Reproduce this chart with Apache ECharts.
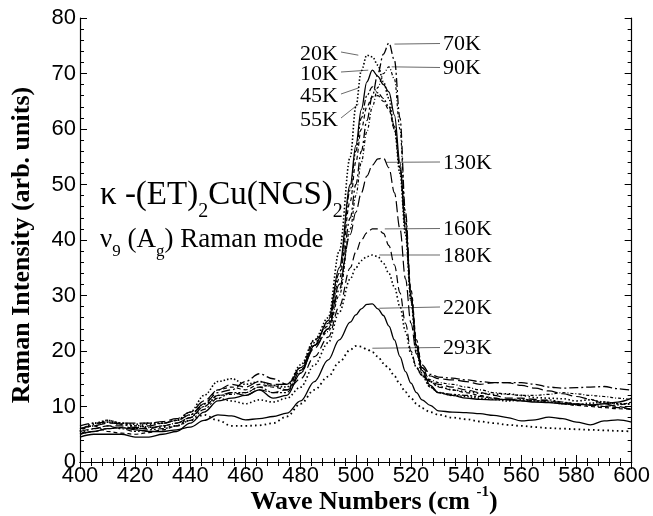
<!DOCTYPE html>
<html><head><meta charset="utf-8">
<script src="https://cdn.jsdelivr.net/npm/echarts@6/dist/echarts.min.js"></script>
<style>html,body{margin:0;padding:0;background:#fff}#c{width:653px;height:516px}</style>
</head><body><div id="c"></div>
<script>
const X = [400,405,410,415,420,425,430,435,440,445,450,455,460,465,470,475,480,485,490,494,498,500,502,504,506,508,510,512,514,516,518,520,522,524,527,530,535,540,545,550,555,560,565,570,575,580,585,590,595,600];

const K10 = [4.5,5,5,5,4.5,4.5,5,5.5,7,9,11,11.5,12,13,11.5,12,16,21,25.5,35,50,57,63.5,68.5,70.6,69.5,68,66.7,62.5,54,42,30,21,16.5,13.8,12.5,12,11.5,11.3,11.2,11.3,11,10.8,10.7,10.5,10.4,10.3,10.5,10.8,11.5];
const K20 = [5.5,7,7.5,7,6.8,7,7,7.5,9,12,14.5,15,14,14.5,13.8,13.5,17.5,22,26,38,55,64,70.5,73.3,73,71.5,68.5,65.5,60,52,41,29,20,15.5,13.5,12.5,12,11.8,11.5,11.3,11,11.2,11,10.8,10.5,10.3,10.6,10.8,10.5,10.5];
const K45 = [5,6,6.5,6,5.5,5.8,6,6.5,7.5,9.5,11.5,12.5,12.5,13.5,12.5,12.5,16.5,21.5,25,34,49,56,62,66,67.6,66.5,65.5,64,60.5,53,42,30,21,16,13.5,12.5,12.2,12,11.8,11.5,11.2,11.4,11,11.2,10.8,10.5,10.2,10,10.3,10.8];
const K55 = [6,6.5,5.5,5.2,5,5.3,5.8,6.5,8,10.5,13,13.5,13,14,13.5,13,17,22,24.5,33,47,54,60,64,65.8,66,65,63.5,60,53,43,31,22,17,14.5,13.5,13,12.5,12,11.5,11.2,11,11,10.8,10.5,10.2,10,9.8,9.6,9.5];
const K70 = [6.5,7,7.2,6.8,6.2,6.5,7,7.5,8.5,10.5,12.5,13,14.5,15.9,15,14,17,21,24,31,44,50,56,61.5,66,70,73.5,75.5,72.4,62,45,30,21,17.5,15.8,15.3,15.1,14.8,14.5,14.3,14.3,14.3,14,13.5,13.3,13.4,13.5,13.6,13.2,12.9];
const K90 = [5,5.5,6,6.2,6,6.2,6.5,7,8,10,12,12.2,12.5,13.5,13.8,13,16,21,23.5,30,42,48,54,59.5,64,67.5,70,71.2,69,60,44,29,20.5,16.5,14.8,14.3,14,13.5,13,12.5,12.2,12,12,12.2,12.5,12.3,12,11.8,11.5,11.2];
const K130 = [6,6.5,7,7,7,7,7.3,7.8,9,11,13,14,13.5,14.5,14,14,16.5,20.5,24,32,41,45,48.5,51.5,53.5,54.6,54.8,53,48.5,42,33,25,19.5,17,15.5,15,14.8,14.5,14,14.3,14.3,13.8,13.3,12.8,12.3,11.8,11.3,10.5,10,9.4];
const K160 = [5.5,6,6.5,6.5,6,6,6.5,7,8,10,12,12.5,12,13,12.5,13,15,19,22.5,28,35,37.8,40,41.3,42,42,41.2,39,35.5,30.5,25,20,17,15.5,14.5,14,13.5,13,12.5,12,11.5,11.5,11.3,11,10.7,10.5,10.3,10,9.8,9.5];
const K180 = [6,6.5,7.5,7,6.5,6.8,7,7.5,8.5,10.5,11.5,11,10.5,11.2,10.8,11.5,13.5,17.5,21.5,27,33,35,36.3,37,37.3,37,35.8,34,31.5,28,23.5,19.5,17,15.6,14.5,13.6,13,12.7,12.4,12.2,12.3,12,11.6,11.5,11.4,11,11.2,10.8,10.5,10.4];
const K220 = [5,5.5,6,6.2,5.8,5.5,5.5,5.8,6.3,7.5,8.5,8.3,7.6,7.8,8.2,8.8,11,14.5,18.4,22,25.2,26.5,27.6,28.4,28.5,27.6,26.4,24.5,22,19,16.3,14.2,12.5,11.2,10.2,9.2,9,8.9,8.7,8.4,8,7.4,7.6,8.1,7.8,7.2,6.7,7.4,7.6,7.2];
const K293 = [5.5,6.8,7.2,6.8,6.5,6.3,6.3,6.5,7.5,8.5,7.5,6.5,6.5,6.6,7,8.2,10.5,13,15.4,18,20.2,20.9,20.8,20.3,19.8,19,17.8,16.8,15.5,14,12.6,11.5,10.5,9.7,9,8.5,8,7.7,7.3,7,6.7,6.5,6.3,6.1,6,5.9,5.8,5.7,5.6,5.5];

const seriesNames = ['10K','20K','45K','55K','70K','90K','130K','160K','180K','220K','293K'];
const seriesValues = [K10,K20,K45,K55,K70,K90,K130,K160,K180,K220,K293];
const xTicks = [400,420,440,460,480,500,520,540,560,580,600];
const yTicks = [0,10,20,30,40,50,60,70,80];

const styles = {
 '10K':{type:'solid',w:1.3},
 '20K':{type:[1.5,2],w:1.6},
 '45K':{type:[6,2,2,2,2,2],w:1.2},
 '55K':{type:[4,3],w:1.2},
 '70K':{type:[9,3,2,3],w:1.3},
 '90K':{type:[3,2,1,2],w:1.2},
 '130K':{type:[11,4],w:1.2},
 '160K':{type:[8,4],w:1.2},
 '180K':{type:[1.5,2.5],w:1.6},
 '220K':{type:'solid',w:1.3},
 '293K':{type:[1.6,3.2],w:1.8}
};

// annotation layout: [label, side, textY(px), anchor wave number, anchor intensity]
const notes = [
 ['20K','L',54,500.9,73.3],
 ['10K','L',74,504.5,70.6],
 ['45K','L',96,501,67.4],
 ['55K','L',120,501,64.5],
 ['70K','R',44.5,514,75.3],
 ['90K','R',68.5,513,71.2],
 ['130K','R',163,511,54],
 ['160K','R',229.5,510.5,42],
 ['180K','R',256,508.5,37.3],
 ['220K','R',308,508.5,27.7],
 ['293K','R',348.5,506,20.5]
];

const chart = echarts.init(document.getElementById('c'));
const axisCommon = {
  type:'value', min:400, max:600, interval:20,
  axisLine:{show:true,lineStyle:{color:'#000',width:1.2}},
  axisTick:{show:true,inside:true,length:7,lineStyle:{color:'#000'}},
  minorTick:{show:true,splitNumber:5,length:4,lineStyle:{color:'#000'}},
  splitLine:{show:false}
};
const yCommon = {
  type:'value', min:0, max:80, interval:10,
  axisLine:{show:true,lineStyle:{color:'#000',width:1.2}},
  axisTick:{show:true,inside:true,length:7,lineStyle:{color:'#000'}},
  minorTick:{show:true,splitNumber:5,length:4,lineStyle:{color:'#000'}},
  splitLine:{show:false}
};
const series = seriesNames.map((n,i)=>({
  name:n, type:'line', showSymbol:false, smooth:0.35, smoothMonotone:'x',
  data: X.map((x,j)=>[x, seriesValues[i][j]]),
  lineStyle:{color:'#000', width:styles[n].w, type:styles[n].type},
  animation:false, silent:true
}));
chart.setOption({
  animation:false,
  grid:{left:80,right:18,top:18,bottom:54},
  xAxis:[
    Object.assign({}, axisCommon, {position:'bottom',
      axisLabel:{show:true,color:'#000',fontSize:22,fontFamily:'Liberation Sans',margin:3,
        formatter:v=>xTicks.includes(v)?String(v):''}}),
    Object.assign({}, axisCommon, {position:'top', axisLabel:{show:false}})
  ],
  yAxis:[
    Object.assign({}, yCommon, {position:'left',
      axisLabel:{show:true,color:'#000',fontSize:22,fontFamily:'Liberation Sans',margin:4,
        formatter:v=>yTicks.includes(v)?String(v):''}}),
    Object.assign({}, yCommon, {position:'right', axisLabel:{show:false}})
  ],
  series: series
});

// annotations
const ctx = document.createElement('canvas').getContext('2d');
function mw(t,f){ctx.font=f;return ctx.measureText(t).width;}
const g = [];
const lf = '22px "Liberation Serif"';
notes.forEach(([lab,side,ty,ax,ay])=>{
  const p = chart.convertToPixel({xAxisIndex:0,yAxisIndex:0},[ax,ay]);
  if(side==='L'){
    g.push({type:'text',x:338,y:ty,style:{text:lab,font:lf,fill:'#000',textAlign:'right',textVerticalAlign:'middle'}});
    g.push({type:'line',shape:{x1:341,y1:ty-2,x2:p[0],y2:p[1]},style:{stroke:'#444',lineWidth:0.8}});
  } else {
    g.push({type:'text',x:443,y:ty,style:{text:lab,font:lf,fill:'#000',textAlign:'left',textVerticalAlign:'middle'}});
    g.push({type:'line',shape:{x1:p[0],y1:p[1],x2:440,y2:ty-1},style:{stroke:'#444',lineWidth:0.8}});
  }
});
function pieces(list, x0){
  let x = x0;
  list.forEach(([t,f,base])=>{
    g.push({type:'text',x:x,y:base,style:{text:t,font:f,fill:'#000',textAlign:'left',textVerticalAlign:'bottom'}});
    x += mw(t,f);
  });
}
const mF='33px "Liberation Serif"', sF='20px "Liberation Serif"';
pieces([['κ -(ET)',mF,211.5],['2',sF,222],['Cu(NCS)',mF,211.5],['2',sF,222]],100);
const m2='27px "Liberation Serif"', s2='17px "Liberation Serif"';
pieces([['ν',m2,253],['9',s2,260],[' (A',m2,253],['g',s2,260],[') Raman mode',m2,253]],100);
// axis titles
const tF='bold 26px "Liberation Serif"', supF='bold 15px "Liberation Serif"';
const t1='Wave Numbers (cm ', t2='-1', t3=')';
const wT = mw(t1,tF)+mw(t2,supF)+mw(t3,tF);
let xs = 374 - wT/2;
g.push({type:'text',x:xs,y:515,style:{text:t1,font:tF,fill:'#000',textVerticalAlign:'bottom'}});
xs += mw(t1,tF);
g.push({type:'text',x:xs,y:500,style:{text:t2,font:supF,fill:'#000',textVerticalAlign:'bottom'}});
xs += mw(t2,supF);
g.push({type:'text',x:xs,y:515,style:{text:t3,font:tF,fill:'#000',textVerticalAlign:'bottom'}});
g.push({type:'text',x:22,y:245,rotation:Math.PI/2,style:{text:'Raman Intensity (arb. units)',font:tF,fill:'#000',textAlign:'center',textVerticalAlign:'middle'}});
chart.setOption({graphic:g});
</script></body></html>
